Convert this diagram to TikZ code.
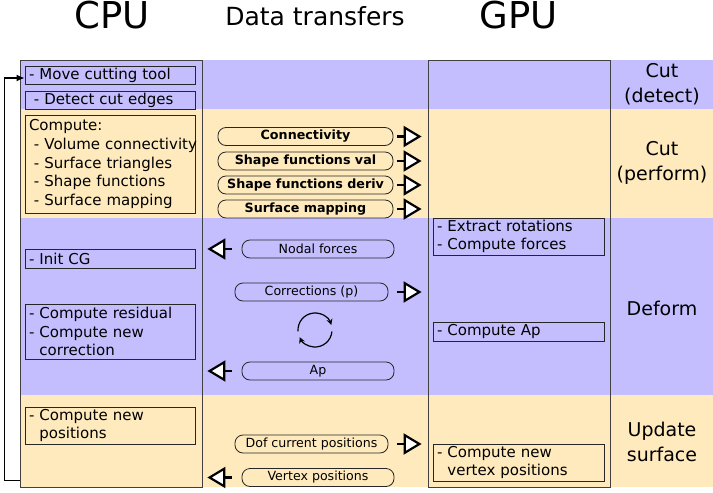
\documentclass[tikz,border=0pt]{standalone}
\usepackage{fontspec}
\setmainfont{DejaVu Sans}
\usepackage{tikz}
\usetikzlibrary{arrows.meta}
\definecolor{bandblue}{RGB}{196,190,254}
\definecolor{bandorange}{RGB}{254,234,188}

\begin{document}
\begin{tikzpicture}[x=1pt, y=-1pt,
    task/.style={draw=black!85, line width=0.8pt, align=left, text width=162pt,
        inner xsep=4pt, inner ysep=0pt, font=\fontsize{15}{18.7}\selectfont},
    xfer/.style={draw=black!85, line width=0.8pt, rounded corners=8pt, inner sep=0pt,
        minimum height=18pt, font=\fontsize{12.6}{15}\selectfont},
    toR/.style={line width=2.2pt, shorten >=6pt, -{Triangle[length=18pt, width=21pt, fill=white]}},
    toL/.style={line width=2.2pt, shorten <=10pt, shorten >=5pt, -{Triangle[length=18pt, width=21pt, fill=white]}},
    stage/.style={align=center, font=\fontsize{19}{25}\selectfont}]
    \useasboundingbox (0,0) rectangle (713,493);

    % bands
    \fill[bandblue] (20,60) rectangle (713,109);
    \fill[bandorange] (20,109) rectangle (713,218);
    \fill[bandblue] (20,218) rectangle (713,395);
    \fill[bandorange] (20,395) rectangle (713,487);

    % titles
    \node[font=\fontsize{37}{40}\selectfont] (cputitle) at (112,15) {CPU};
    \node[font=\fontsize{25}{30}\selectfont] (xfertitle) at (315,16) {Data transfers};
    \node[font=\fontsize{37}{40}\selectfont] (gputitle) at (519,15) {GPU};

    % columns
    \node[draw=black!75, line width=0.8pt, inner sep=0pt, minimum width=182pt, minimum height=427pt] (cpu) at (111,273.5) {};
    \node[draw=black!75, line width=0.8pt, inner sep=0pt, minimum width=182pt, minimum height=427pt] (gpu) at (519,273.5) {};

    % CPU tasks
    \node[task, minimum height=18pt] (move) at (110,75) {- Move cutting tool};
    \node[task, minimum height=18pt] (detect) at (110,100) {\ - Detect cut edges};
    \node[task, minimum height=98pt] (compute) at (110,164) {Compute:\\
        \mbox{\ - Volume connectivity}\\ \ - Surface triangles\\ \ - Shape functions\\ \ - Surface mapping};
    \node[task, minimum height=19pt] (initcg) at (110,258.5) {- Init CG};
    \node[task, minimum height=55pt] (resid) at (110,331.5) {- Compute residual\\- Compute new\\\phantom{- }correction};
    \node[task, minimum height=37pt] (newpos) at (110,425.5) {- Compute new\\\phantom{- }positions};

    % GPU tasks
    \node[task, text width=163pt, minimum height=37pt] (forces) at (518.5,236.5) {- Extract rotations\\- Compute forces};
    \node[task, text width=163pt, minimum height=19pt] (gpuap) at (518.5,331.5) {- Compute Ap};
    \node[task, text width=163pt, minimum height=37pt] (vertex) at (518.5,462.5) {- Compute new\\\phantom{- }vertex positions};

    % transfers
    \node[xfer, minimum width=175pt, font=\fontsize{12.7}{15}\bfseries] (conn) at (305.5,136.5) {Connectivity};
    \node[xfer, minimum width=175pt, font=\fontsize{12.7}{15}\bfseries] (shval) at (305.5,161) {Shape functions val};
    \node[xfer, minimum width=175pt, font=\fontsize{12.7}{15}\bfseries] (shder) at (305.5,185) {Shape functions deriv};
    \node[xfer, minimum width=175pt, font=\fontsize{12.7}{15}\bfseries] (surf) at (305.5,209) {Surface mapping};
    \node[xfer, minimum width=152pt] (nodal) at (318,249) {Nodal forces};
    \node[xfer, minimum width=153pt] (corr) at (311.5,292) {Corrections (p)};
    \node[xfer, minimum width=152pt] (ap) at (318,371) {Ap};
    \node[xfer, minimum width=153pt] (dof) at (311.5,444) {Dof current positions};
    \node[xfer, minimum width=152pt] (vpos) at (318,477.5) {Vertex positions};

    \foreach \n/\g in {conn/4,shval/4,shder/4,surf/4,corr/9,dof/9}
        \draw[toR, shorten <=\g pt] (\n) -- (\n -| gpu.west);
    \foreach \n in {nodal,ap,vpos}
        \draw[toL] (\n) -- (\n -| cpu.east);

    % CG loop
    \draw[line width=1.2pt, -{Stealth[length=6pt, width=6pt]}] (315,330) ++(175:17) arc[start angle=175, end angle=343, radius=17];
    \draw[line width=1.2pt, -{Stealth[length=6pt, width=6pt]}] (315,330) ++(5:17) arc[start angle=5, end angle=155, radius=17];

    % back to the start
    \draw[line width=1.4pt, -{Latex[length=8pt, width=7pt]}] ([yshift=7pt]cpu.south west) -- ++(-15,0) |- ([yshift=-3pt]move.west);

    % stages
    \node[stage] (cutdetect) at (662,84.5) {Cut\\(detect)};
    \node[stage] (cutperform) at (662,162.5) {Cut\\(perform)};
    \node[stage] (deform) at (662,308) {Deform};
    \node[stage] (update) at (662,441.5) {Update\\surface};
\end{tikzpicture}
\end{document}
